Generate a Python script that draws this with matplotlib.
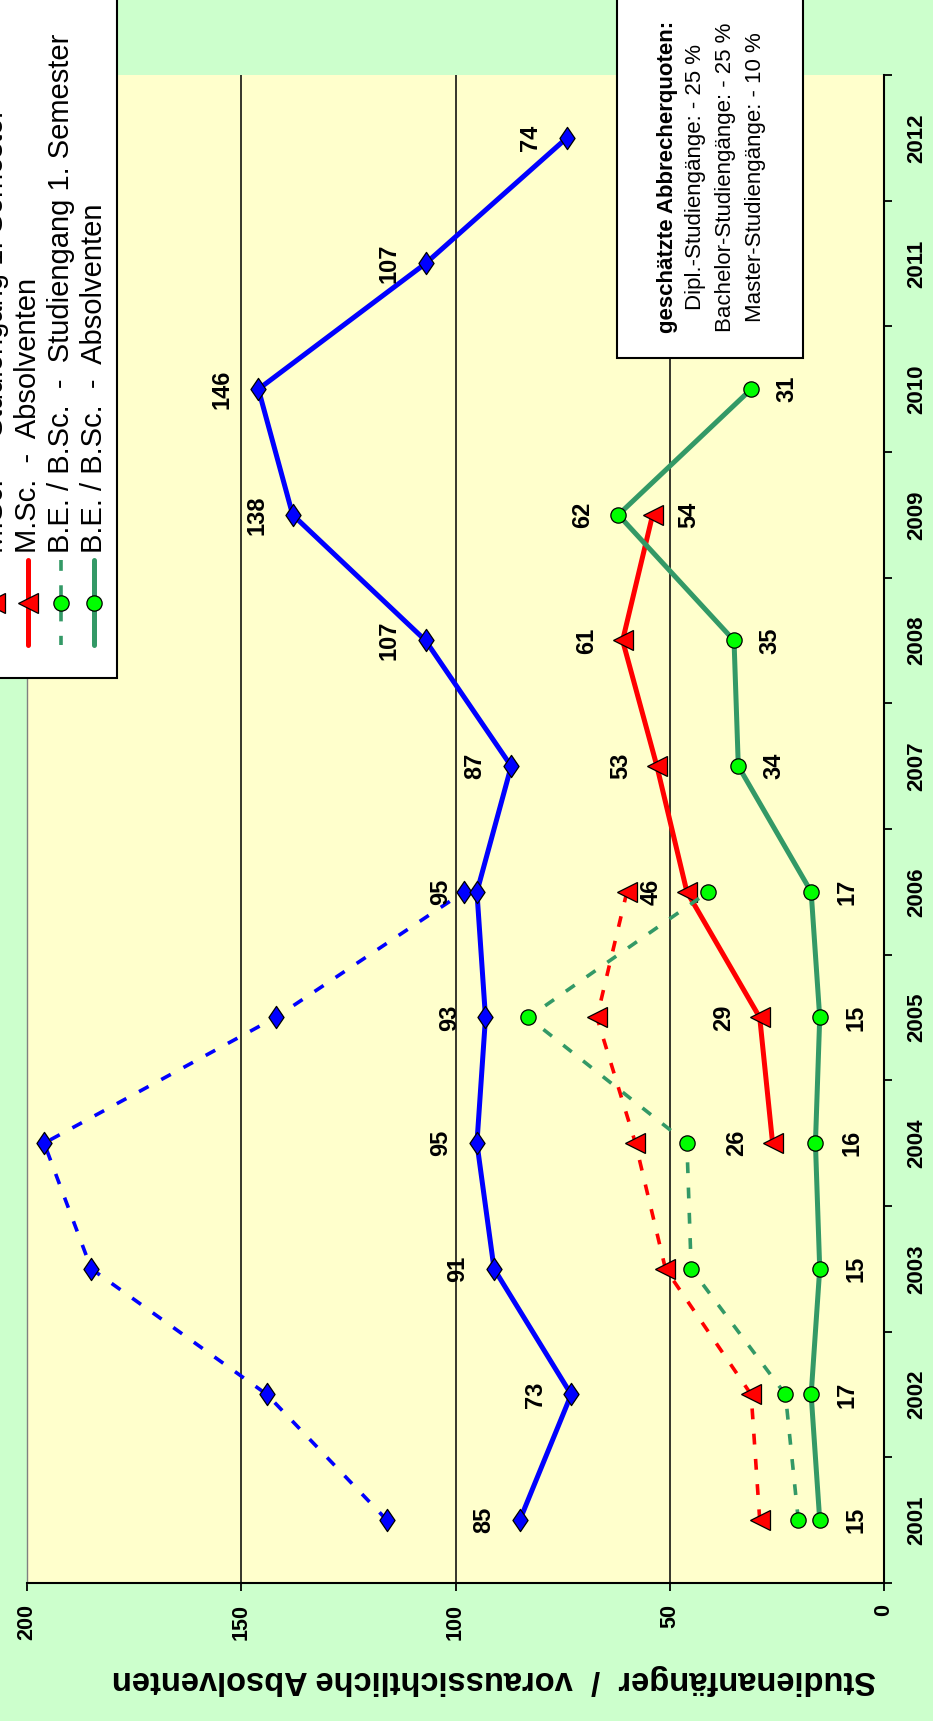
import numpy as np
import matplotlib
matplotlib.use("Agg")
from matplotlib import pyplot as plt
from matplotlib.path import Path
from matplotlib.patches import Rectangle

plt.rcParams['font.family'] = ['Liberation Sans', 'DejaVu Sans']

# years on the category axis
years = list(range(2001, 2013))

# Dipl. - Studiengang 1. Semester / Absolventen
dipl_sem1 = [116, 144, 185, 196, 142, 98]
dipl_abs = [85, 73, 91, 95, 93, 95, 87, 107, 138, 146, 107, 74]
# M.Sc.
msc_sem1 = [29, 31, 51, 58, 67, 60]
msc_abs = [26, 29, 46, 53, 61, 54]
msc_abs_years = list(range(2004, 2010))
# B.E. / B.Sc.
bsc_sem1 = [20, 23, 45, 46, 83, 41]
bsc_abs = [15, 17, 15, 16, 15, 17, 34, 35, 62, 31]

sem1_years = list(range(2001, 2007))

# label side per point: -1 = higher value side, +1 = lower value side
msc_label_side = [-1, -1, -1, -1, -1, 1]
bsc_label_side = [1, 1, 1, 1, 1, 1, 1, 1, -1, 1]

value_ticks = [0, 50, 100, 150, 200]
grid_values = [50, 100, 150]

legend_labels = [
    'Dipl.  -  Studiengang 1. Semester',
    'Dipl.  -  Absolventen',
    'M.Sc.  -  Studiengang 1. Semester',
    'M.Sc.  -  Absolventen',
    'B.E. / B.Sc.  -  Studiengang 1. Semester',
    'B.E. / B.Sc.  -  Absolventen',
]
note_title = 'geschätzte Abbrecherquoten:'
note_lines = ['Dipl.-Studiengänge: - 25 %',
              'Bachelor-Studiengänge: - 25 %',
              'Master-Studiengänge: - 10 %']

BLUE = '#0000FF'
RED = '#FF0000'
GREEN_LINE = '#339966'
GREEN_FILL = '#00FF00'

# tall diamond
diamond = Path([(0, 1), (0.68, 0), (0, -1), (-0.68, 0), (0, 1)],
               [Path.MOVETO, Path.LINETO, Path.LINETO, Path.LINETO, Path.CLOSEPOLY])

styles = [
    dict(color=BLUE, lw=2.6, ls=(0, (3, 4)), marker=diamond, ms=16, mfc=BLUE),
    dict(color=BLUE, lw=3.6, ls='-', marker=diamond, ms=16, mfc=BLUE),
    dict(color=RED, lw=2.6, ls=(0, (3, 4)), marker='<', ms=14, mfc=RED),
    dict(color=RED, lw=3.6, ls='-', marker='<', ms=14, mfc=RED),
    dict(color=GREEN_LINE, lw=2.6, ls=(0, (3, 4)), marker='o', ms=11, mfc=GREEN_FILL),
    dict(color=GREEN_LINE, lw=3.6, ls='-', marker='o', ms=11, mfc=GREEN_FILL),
]

W, H = 933, 1721
fig = plt.figure(figsize=(W / 100, H / 100), dpi=100, facecolor='#CCFFCC')

x0, x1 = 27, 884
y0, y1 = 75, 1583
ax = fig.add_axes([x0 / W, 1 - y1 / H, (x1 - x0) / W, (y1 - y0) / H])
ax.set_facecolor('#FFFFCC')

ax.set_xlim(200, 0)
ax.set_ylim(2000.5, 2012.5)

for g in grid_values:
    ax.axvline(g, color='black', lw=1.1, zorder=1)

series = [
    (dipl_sem1, sem1_years),
    (dipl_abs, years),
    (msc_sem1, sem1_years),
    (msc_abs, msc_abs_years),
    (bsc_sem1, sem1_years),
    (bsc_abs, years[:len(bsc_abs)]),
]
for (vals, yrs), st in zip(series, styles):
    ax.plot(vals, yrs, color=st['color'], lw=st['lw'], ls=st['ls'],
            marker=st['marker'], ms=st['ms'], mfc=st['mfc'], mec='black',
            mew=0.9, zorder=3, solid_capstyle='butt')

def label_points(vals, yrs, sides):
    for v, yr, s in zip(vals, yrs, sides):
        ax.annotate(str(v), (v, yr), xytext=(26 * s, 0), textcoords='offset points',
                    rotation=90, ha='center', va='center', fontsize=17,
                    fontweight='bold', zorder=4)

label_points(dipl_abs, years, [-1] * len(dipl_abs))
label_points(msc_abs, msc_abs_years, msc_label_side)
label_points(bsc_abs, years[:len(bsc_abs)], bsc_label_side)

# category axis on the right
ax.yaxis.tick_right()
ax.set_yticks(years)
ax.set_yticklabels([str(y) for y in years], rotation=90, va='center',
                   fontsize=16, fontweight='bold')
ax.set_yticks(np.arange(2000.5, 2013, 1), minor=True)
ax.tick_params(axis='y', which='major', length=0, pad=16)
ax.tick_params(axis='y', which='minor', length=6, width=1.3, direction='out',
               right=True, left=False)

# value axis at the bottom
ax.set_xticks(value_ticks)
ax.set_xticklabels([str(v) for v in value_ticks], rotation=90, fontsize=15.5,
                   fontweight='bold')
ax.tick_params(axis='x', length=6, width=1.3, direction='out', pad=9)

ax.spines['top'].set_visible(False)
ax.spines['left'].set_color('#808080')
ax.spines['left'].set_linewidth(1)
for side in ('right', 'bottom'):
    ax.spines[side].set_color('black')
    ax.spines[side].set_linewidth(1.5)

# overlay in pixel coordinates for legend, note box and axis title
ov = fig.add_axes([0, 0, 1, 1], zorder=5)
ov.set_xlim(0, W)
ov.set_ylim(H, 0)
ov.axis('off')
ov.patch.set_visible(False)

ov.text(494, 1680, 'Studienanfänger  /  voraussichtliche Absolventen', rotation=180,
        ha='center', va='center', fontsize=23.5, fontweight='bold')

# legend box
ov.add_patch(Rectangle((-250, -20), 250 + 117, 20 + 678, facecolor='white',
                       edgecolor='black', lw=1.5, clip_on=False))
row_x = [94 - 33 * (5 - i) for i in range(6)]
for xr, st, lab in zip(row_x, styles, legend_labels):
    ov.plot([xr, xr], [560, 645], color=st['color'], lw=st['lw'], ls=st['ls'],
            solid_capstyle='round')
    ov.plot([xr], [603], marker=st['marker'], ms=st['ms'], mfc=st['mfc'],
            mec='black', mew=0.9, ls='none')
    ov.text(xr, 553, lab, rotation=90, ha='center', va='bottom', fontsize=21)

# note box
ov.add_patch(Rectangle((617, -5), 186, 363, facecolor='white', edgecolor='black',
                       lw=1.5))
ov.text(668, 177, note_title, rotation=90, ha='center', va='center', fontsize=16,
        fontweight='bold')
for i, line in enumerate(note_lines):
    ov.text(696 + 30 * i, 177, line, rotation=90, ha='center', va='center',
            fontsize=16)

fig.savefig('out.png', dpi=100, facecolor=fig.get_facecolor())
